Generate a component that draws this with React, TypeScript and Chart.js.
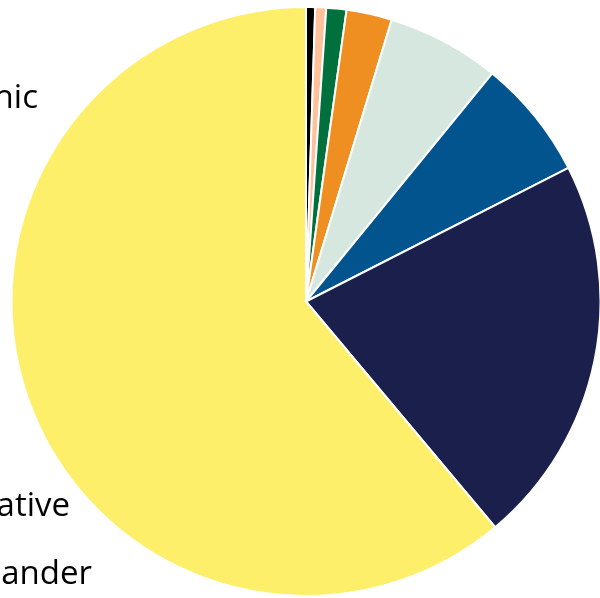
import React, { useEffect, useRef } from "react";
import { Chart, registerables } from "chart.js";

Chart.register(...registerables);

// Legend order (largest first), as in the source figure
const categories = [
  "Hispanic",
  "White",
  "Black",
  "Asian",
  "Two+",
  "Other",
  "American Indian/Alaska Native",
  "Native Hawaiian/Pacific Islander",
];
const values = [61.1, 21.4, 6.6, 6.2, 2.5, 1.1, 0.6, 0.5];
const colors = [
  "#FEEF6B",
  "#1A1F4C",
  "#02548F",
  "#D6E7DF",
  "#EF8E21",
  "#00703D",
  "#FFC19A",
  "#000000",
];

// The source figure's legend column sits mostly off the left edge of the crop;
// only the tails of some labels are visible.
const legendClipPlugin = {
  id: "legendClip",
  afterDraw(chart: any) {
    const ctx = chart.ctx as CanvasRenderingContext2D;
    const rightEdges = [38, -20, -20, -20, -20, -20, 70, 92];
    ctx.save();
    ctx.font = '33px "Open Sans"';
    ctx.fillStyle = "#000";
    ctx.textAlign = "right";
    ctx.textBaseline = "alphabetic";
    categories.forEach((label, i) => {
      const xr = rightEdges[i];
      if (xr <= 0) return;
      ctx.fillText(label, xr, 108 + 68 * i);
    });
    ctx.restore();
  },
};

export default function App() {
  const ref = useRef<HTMLCanvasElement | null>(null);
  useEffect(() => {
    document.body.style.margin = "0";
    const canvas = ref.current!;
    const chart = new Chart(canvas, {
      type: "pie",
      data: {
        labels: categories.slice().reverse(),
        datasets: [
          {
            data: values.slice().reverse(),
            backgroundColor: colors.slice().reverse(),
            borderColor: "#ffffff",
            borderWidth: 2,
          },
        ],
      },
      options: {
        responsive: false,
        animation: false,
        radius: 294.5,
        layout: { padding: { left: 12, right: 0, top: 6, bottom: 1 } },
        plugins: {
          legend: { display: false },
          tooltip: { enabled: false },
        },
      } as any,
      plugins: [legendClipPlugin],
    });
    return () => chart.destroy();
  }, []);
  return (
    <div style={{ position: "absolute", left: 0, top: 0, width: 600, height: 598, background: "#fff", overflow: "hidden" }}>
      <canvas ref={ref} width={600} height={598} style={{ display: "block" }} />
    </div>
  );
}
